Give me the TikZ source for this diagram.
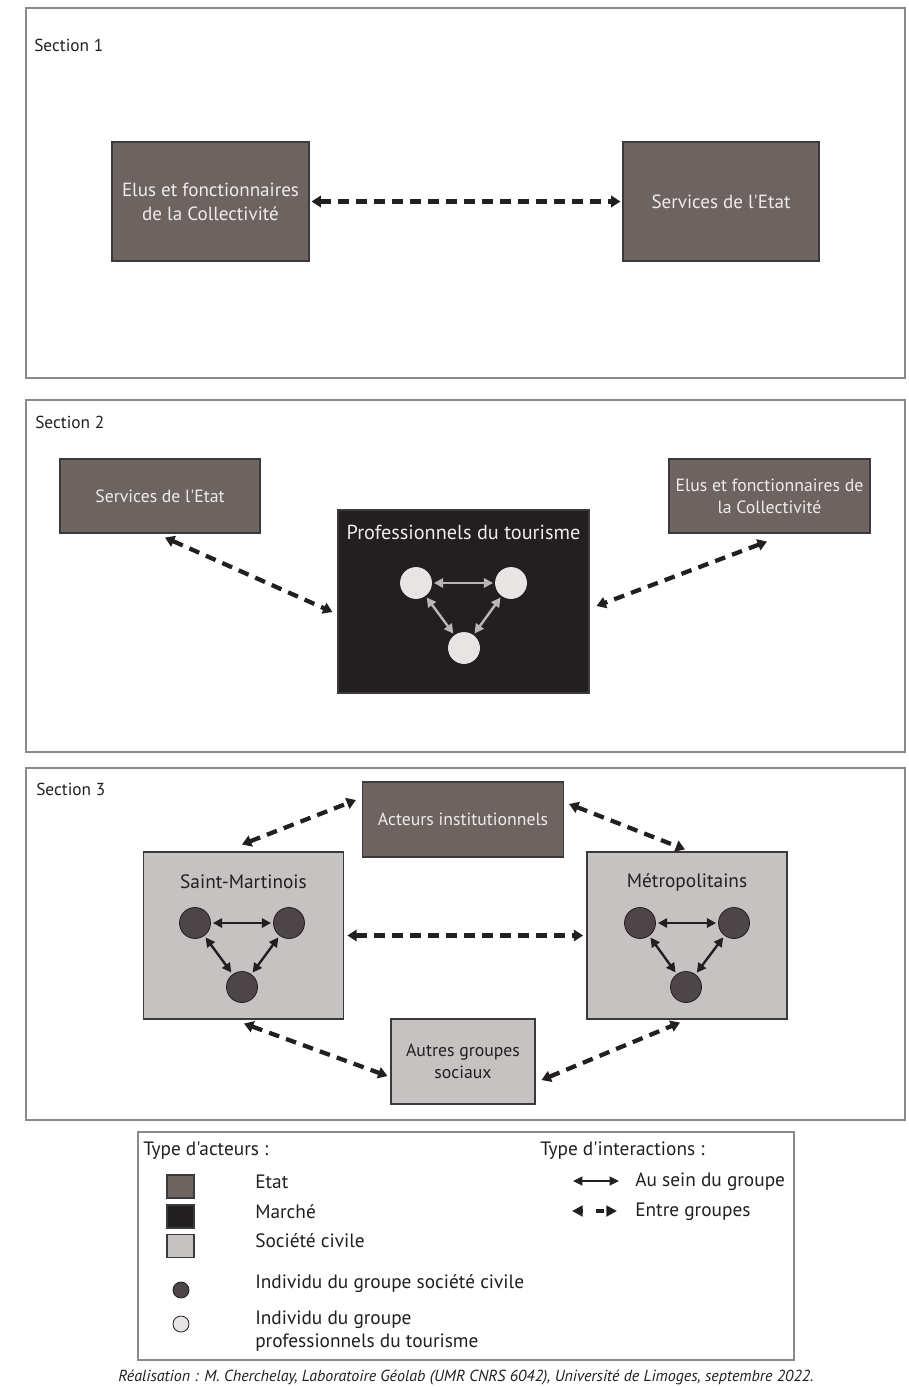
\documentclass[tikz,border=0pt]{standalone}
\usepackage{fontspec}
\setmainfont{PT Sans}[Ligatures=TeXOff]
\usetikzlibrary{arrows.meta,calc}
\definecolor{etat}{HTML}{6D6462}
\definecolor{marche}{HTML}{231F20}
\definecolor{societe}{HTML}{C6C2C1}
\definecolor{dcircle}{HTML}{4D4547}
\definecolor{lcircle}{HTML}{E8E4E4}
\definecolor{framec}{HTML}{8A8A8A}
\definecolor{boxline}{HTML}{3A3A3A}
\definecolor{lighttext}{HTML}{EEEBEA}
\definecolor{innerlight}{HTML}{B8B6B6}
\definecolor{txt}{HTML}{231F20}
\begin{document}
\begin{tikzpicture}[x=0.75pt,y=-0.75pt,
  sz/.style 2 args={minimum width=#1*0.75pt, minimum height=#2*0.75pt},
  frame/.style={draw=framec, line width=0.9pt},
  boxfont/.style={font=\fontsize{13.3}{16.5}\selectfont},
  etatbox/.style={draw=boxline, fill=etat, line width=0.8pt, text=lighttext, boxfont, align=center, inner sep=0pt},
  marchebox/.style={draw=boxline, fill=marche, line width=0.8pt, inner sep=0pt},
  socbox/.style={draw=boxline, fill=societe, line width=0.8pt, text=txt, boxfont, align=center, inner sep=0pt},
  dcirc/.style={circle, draw=marche, fill=dcircle, line width=0.6pt, minimum size=31*0.75pt, inner sep=0pt},
  lcirc/.style={circle, draw=lcircle, fill=lcircle, line width=0.6pt, minimum size=31*0.75pt, inner sep=0pt},
  between/.style={draw=marche, line width=3.2pt, dash pattern=on 8pt off 5.5pt,
     {Triangle[length=7pt,width=8.5pt]}-{Triangle[length=7pt,width=8.5pt]}},
  within/.style={draw=marche, line width=1.8pt, shorten <=1.5pt, shorten >=1.5pt,
     {Triangle[length=7pt,width=7pt]}-{Triangle[length=7pt,width=7pt]}},
  withinlight/.style={within, draw=innerlight},
  seclabel/.style={anchor=west, font=\fontsize{13}{15}\selectfont, text=txt, inner sep=0pt},
  legtext/.style={anchor=west, font=\fontsize{14.5}{17.25}\selectfont, text=txt, inner sep=0pt, align=left},
  title/.style={inner sep=0pt}
]
\useasboundingbox[fill=white] (0,0) rectangle (909,1387);

% frames
\draw[frame] (26,8) rectangle (905,378);
\draw[frame] (26,400) rectangle (905,752);
\draw[frame] (26,768) rectangle (905,1120);
\draw[frame] (138,1132) rectangle (794,1360);

% ---------- Section 1
\node[seclabel] (lab1) at (34,45) {Section 1};
\node[etatbox, sz={197}{119}, font=\fontsize{14.3}{18}\selectfont] (s1l) at (210.5,201.5) {Elus et fonctionnaires\\de la Collectivité};
\node[etatbox, sz={196}{119}, font=\fontsize{14.3}{18}\selectfont] (s1r) at (721,201.5) {Services de l'Etat};
\draw[between] ([xshift=1.5pt]s1l.east) -- ([xshift=-1.5pt]s1r.west);

% ---------- Section 2
\node[seclabel] (lab2) at (35,422) {Section 2};
\node[etatbox, sz={200}{74}] (s2l) at (160,496) {Services de l'Etat};
\node[etatbox, sz={201}{74}] (s2r) at (769.5,496) {Elus et fonctionnaires de\\la Collectivité};
\node[marchebox, sz={251}{183}] (s2c) at (463.5,601.5) {};
\node[title, text=lighttext, font=\fontsize{15.2}{18}\selectfont] (s2t) at (463.5,532) {Professionnels du tourisme};
\node[lcirc] (p1) at (416,583) {};
\node[lcirc] (p2) at (511,583) {};
\node[lcirc] (p3) at (464,648) {};
\draw[withinlight] (p1) -- (p2);
\draw[withinlight] (p1) -- (p3);
\draw[withinlight] (p2) -- (p3);
\draw[between] ([shift={(5,4)}]s2l.south) -- ([shift={(-5,10.5)}]s2c.west);
\draw[between] ([shift={(-2.5,8)}]s2r.south) -- ([shift={(7,4.5)}]s2c.east);

% ---------- Section 3
\node[seclabel] (lab3) at (36,789) {Section 3};
\node[etatbox, sz={201}{75}] (ai) at (463,819.5) {Acteurs institutionnels};
\node[socbox, sz={200}{167}] (sm) at (243.5,935.5) {};
\node[title, text=txt, font=\fontsize{14.5}{17}\selectfont] (smt) at (243.5,882) {Saint-Martinois};
\node[socbox, sz={200}{167}] (me) at (687,935.5) {};
\node[title, text=txt, font=\fontsize{14.5}{17}\selectfont] (met) at (687,882) {Métropolitains};
\node[socbox, sz={144}{85}] (ag) at (463,1061.5) {Autres groupes\\sociaux};

\node[dcirc] (a1) at (195,923) {};
\node[dcirc] (a2) at (289,923) {};
\node[dcirc] (a3) at (242,987) {};
\draw[within] (a1) -- (a2);
\draw[within] (a1) -- (a3);
\draw[within] (a2) -- (a3);

\node[dcirc] (b1) at (640,923) {};
\node[dcirc] (b2) at (734,923) {};
\node[dcirc] (b3) at (686,987) {};
\draw[within] (b1) -- (b2);
\draw[within] (b1) -- (b3);
\draw[within] (b2) -- (b3);

\draw[between] ([xshift=2.5pt]sm.east) -- ([xshift=-2.5pt]me.west);
\draw[between] ([shift={(-1.5,-7)}]sm.north) -- ([shift={(-6,-19.5)}]ai.west);
\draw[between] ([shift={(5,-15.5)}]ai.east) -- ([shift={(-2,-2)}]me.north);
\draw[between] ([shift={(0.5,4)}]sm.south) -- ([shift={(-3,14.5)}]ag.west);
\draw[between] ([shift={(6,18.5)}]ag.east) -- ([shift={(-7,3)}]me.south);

% ---------- Legend
\node[legtext] (lt1) at (143,1151) {Type d'acteurs :};
\node[etatbox, sz={27}{23}] (ke) at (180.5,1186.5) {};
\node[marchebox, sz={27}{23}] (km) at (180.5,1216.5) {};
\node[socbox, sz={27}{23}] (ks) at (180.5,1246) {};
\node[legtext] (te) at (255,1182) {Etat};
\node[legtext] (tm) at (255,1212) {Marché};
\node[legtext] (ts) at (255,1241) {Société civile};
\node[dcirc, minimum size=16*0.75pt] (kd) at (181,1290) {};
\node[circle, draw=marche, fill=lcircle, line width=0.6pt, minimum size=16*0.75pt, inner sep=0pt] (kl) at (181,1324) {};
\node[legtext] (td) at (255,1284) {Individu du groupe société civile};
\node[legtext] (tl) at (255,1331) {Individu du groupe\\professionnels du tourisme};

\node[legtext] (lt2) at (540,1151) {Type d'interactions :};
\coordinate (w1) at (573,1181);
\coordinate (w2) at (619,1181);
\coordinate (e1) at (572,1211);
\coordinate (e2) at (617,1211);
\draw[draw=marche, line width=1.6pt, {Triangle[length=7pt,width=6.5pt]}-{Triangle[length=7pt,width=6.5pt]}] (w1) -- (w2);
\draw[draw=marche, line width=3pt, dash pattern=on 0.5pt off 10pt on 6pt off 20pt,
  {Triangle[length=8pt,width=8pt]}-{Triangle[length=8pt,width=8pt]}] (e1) -- (e2);
\node[legtext] (tw) at (635,1182) {Au sein du groupe};
\node[legtext] (tb) at (635,1212) {Entre groupes};

% footer
\node[font=\itshape\fontsize{12}{14}\selectfont, text=txt, inner sep=0pt] (foot) at (466,1377) {Réalisation : M. Cherchelay, Laboratoire Géolab (UMR CNRS 6042), Université de Limoges, septembre 2022.};
\end{tikzpicture}
\end{document}
